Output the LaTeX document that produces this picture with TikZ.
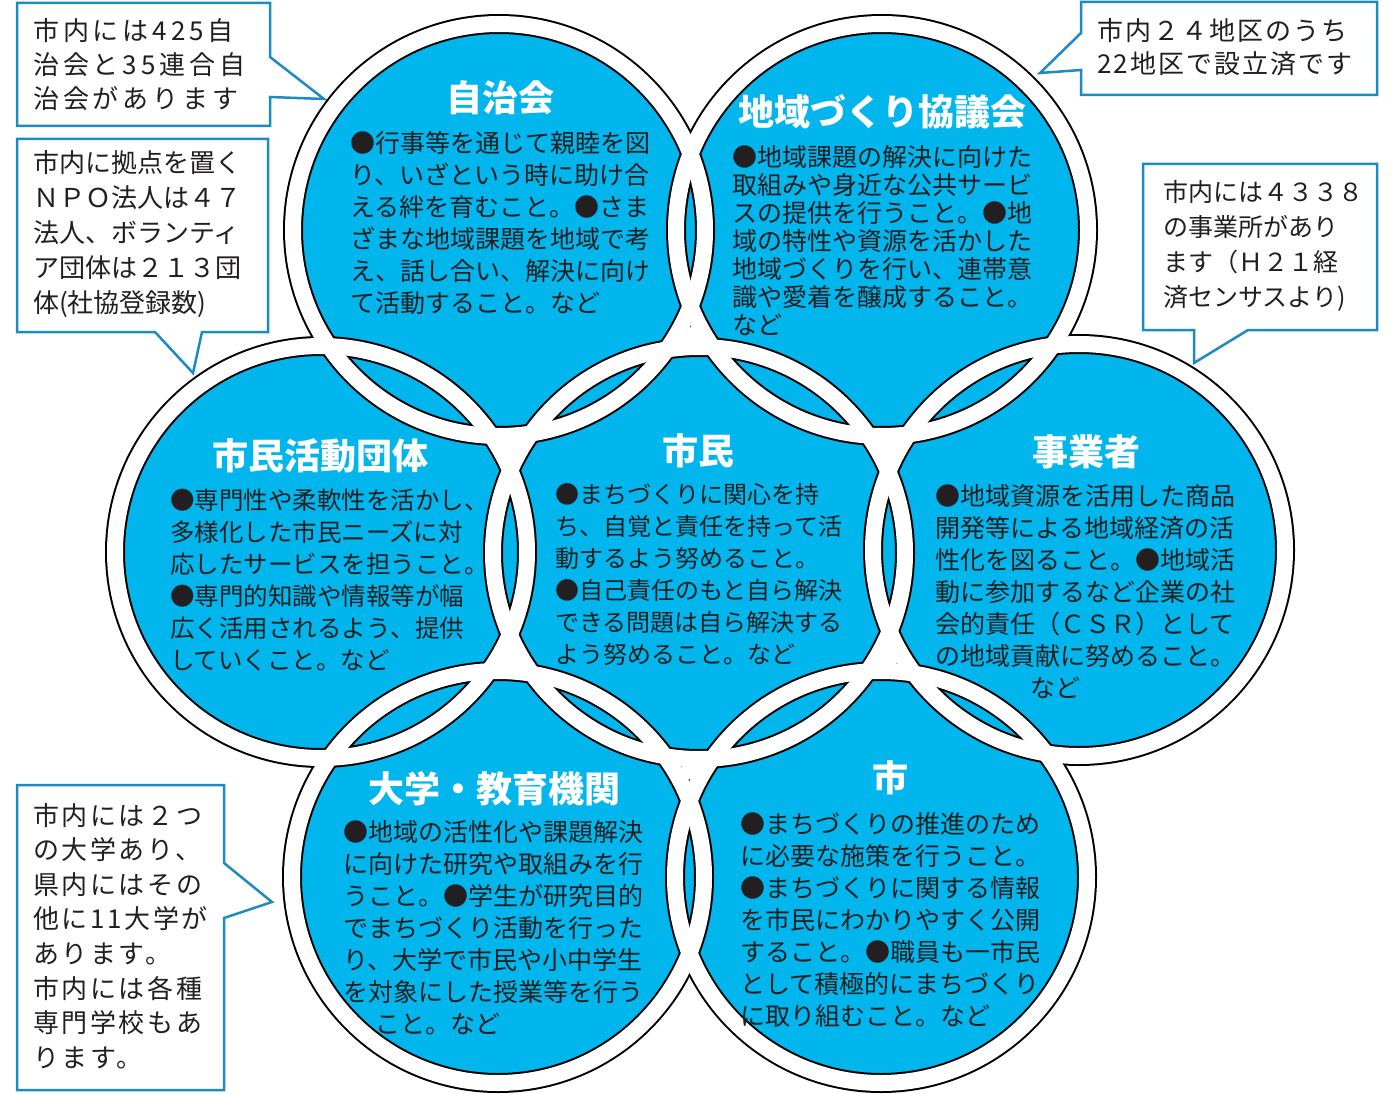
\documentclass[tikz,border=0pt]{standalone}
\usepackage{fontspec}
\setmainfont{Noto Sans CJK JP}

\definecolor{ringcyan}{RGB}{0,182,237}
\definecolor{noteblue}{RGB}{30,138,194}
\definecolor{inkgray}{RGB}{35,31,32}

\tikzset{
    ringfill/.style = {fill = ringcyan},
    ringedge/.style = {draw = black, line width = 20pt},
    ringband/.style = {draw = white, line width = 16pt},
    title/.style = {text = white, inner sep = 0pt, font = \fontsize{36}{36}\selectfont\bfseries},
    body/.style = {text = inkgray, inner sep = 0pt, align = left, anchor = north west, font = \fontsize{25}{32}\selectfont},
    callout/.style = {draw = noteblue, line width = 2.5pt, fill = white, line join = miter},
    note/.style = {text = inkgray, inner sep = 0pt, align = left, anchor = north west},
}

\begin{document}
\begin{tikzpicture}[x = 1pt, y = -1pt]

        \useasboundingbox (0, 0) rectangle (1397, 1094);

        % Callouts
        \coordinate (tip1) at (324, 99);
        \draw [callout] (17, 3) -- (270, 3) -- (270, 57) -- (tip1) -- (270, 97) -- (270, 126) -- (17, 126) -- cycle;
        \node (note1) [note, font = \fontsize{26}{34}\selectfont\addfontfeatures{LetterSpace = 15}] at (33, 18) {市内には425自\\治会と35連合自\\治会があります};

        \coordinate (tip2) at (193, 373);
        \draw [callout] (17, 139) -- (268, 139) -- (268, 332) -- (202, 332) -- (tip2) -- (155, 332) -- (17, 332) -- cycle;
        \node (note2) [note, font = \fontsize{26}{35}\selectfont] at (33, 150) {市内に拠点を置く\\ＮＰＯ法人は４７\\法人、ボランティ\\ア団体は２１３団\\体(社協登録数)};

        \coordinate (tip3) at (1040, 73);
        \draw [callout] (1081, 2) -- (1377, 2) -- (1377, 95) -- (1081, 95) -- (1081, 70) -- (tip3) -- (1081, 33) -- cycle;
        \node (note3) [note, font = \fontsize{26}{33}\selectfont\addfontfeatures{LetterSpace = 8}] at (1097, 18) {市内２４地区のうち\\22地区で設立済です};

        \coordinate (tip4) at (1194, 363);
        \draw [callout] (1143, 164) -- (1377, 164) -- (1377, 330) -- (1248, 330) -- (tip4) -- (1194, 330) -- (1143, 330) -- cycle;
        \node (note4) [note, font = \fontsize{25}{35}\selectfont] at (1163, 180) {市内には４３３８\\の事業所があり\\ます（Ｈ２１経\\済センサスより)};

        \coordinate (tip5) at (272, 902);
        \draw [callout] (17, 785) -- (224, 785) -- (224, 863) -- (tip5) -- (224, 918) -- (224, 1090) -- (17, 1090) -- cycle;
        \node (note5) [note, font = \fontsize{26}{34.6}\selectfont\addfontfeatures{LetterSpace = 10}] at (33, 803) {市内には２つ\\の大学あり、\\県内にはその\\他に11大学が\\あります。\\市内には各種\\専門学校もあ\\ります。};

        % Circles
        \coordinate (jichikai) at (499, 230);
        \coordinate (kyogikai) at (882, 230);
        \coordinate (katsudo) at (321, 552);
        \coordinate (shimin) at (699, 553);
        \coordinate (jigyosha) at (1079, 550);
        \coordinate (daigaku) at (498, 877);
        \coordinate (shi) at (881, 877);

        \foreach \c in {jichikai, kyogikai, katsudo, shimin, jigyosha, daigaku, shi}
            \fill [ringfill] (\c) circle [radius = 206pt];
        \foreach \c in {jichikai, kyogikai, katsudo, shimin, jigyosha, daigaku, shi}
            \draw [ringedge] (\c) circle [radius = 206pt];
        \foreach \c in {jichikai, kyogikai, katsudo, shimin, jigyosha, daigaku, shi}
            \draw [ringband] (\c) circle [radius = 206pt];

        %% Junctions where three rings meet
        \fill [white] (barycentric cs:jichikai=1,kyogikai=1,shimin=1) circle [radius = 11pt];
        \fill [white] (barycentric cs:jichikai=1,katsudo=1,shimin=1) circle [radius = 11pt];
        \fill [white] (barycentric cs:kyogikai=1,jigyosha=1,shimin=1) circle [radius = 11pt];
        \fill [white] (barycentric cs:katsudo=1,daigaku=1,shimin=1) circle [radius = 11pt];
        \fill [white] (barycentric cs:jigyosha=1,shi=1,shimin=1) circle [radius = 11pt];
        \fill [white] (barycentric cs:daigaku=1,shi=1,shimin=1) circle [radius = 11pt];

        %% Jichikai
        \node (jichikai-title) [title] at (500, 98) {自治会};
        \node (jichikai-body) [body] at (350, 131.5) {●行事等を通じて親睦を図\\り、いざという時に助け合\\える絆を育むこと。●さま\\ざまな地域課題を地域で考\\え、話し合い、解決に向け\\て活動すること。など};

        %% Kyogikai
        \node (kyogikai-title) [title] at (882, 112) {地域づくり協議会};
        \node (kyogikai-body) [body, font = \fontsize{25}{28}\selectfont] at (732, 145.5) {●地域課題の解決に向けた\\取組みや身近な公共サービ\\スの提供を行うこと。●地\\域の特性や資源を活かした\\地域づくりを行い、連帯意\\識や愛着を醸成すること。\\など};

        %% Katsudo
        \node (katsudo-title) [title] at (320, 456) {市民活動団体};
        \node (katsudo-body) [body, font = \fontsize{24.5}{32}\selectfont] at (170, 488.5) {●専門性や柔軟性を活かし、\\多様化した市民ニーズに対\\応したサービスを担うこと。\\●専門的知識や情報等が幅\\広く活用されるよう、提供\\していくこと。など};

        %% Shimin
        \node (shimin-title) [title] at (698, 451) {市民};
        \node (shimin-body) [body, font = \fontsize{24}{32}\selectfont] at (555, 483.5) {●まちづくりに関心を持\\ち、自覚と責任を持って活\\動するよう努めること。\\●自己責任のもと自ら解決\\できる問題は自ら解決する\\よう努めること。など};

        %% Jigyosha
        \node (jigyosha-title) [title] at (1086, 452) {事業者};
        \node (jigyosha-body) [body] at (935, 484.5) {●地域資源を活用した商品\\開発等による地域経済の活\\性化を図ること。●地域活\\動に参加するなど企業の社\\会的責任（ＣＳＲ）として\\の地域貢献に努めること。\\\hspace*{95pt}など};

        %% Daigaku
        \node (daigaku-title) [title] at (494, 789) {大学・教育機関};
        \node (daigaku-body) [body] at (343, 820.5) {●地域の活性化や課題解決\\に向けた研究や取組みを行\\うこと。●学生が研究目的\\でまちづくり活動を行った\\り、大学で市民や小中学生\\を対象にした授業等を行う\\\hspace*{32pt}こと。など};

        %% Shi
        \node (shi-title) [title] at (890, 778) {市};
        \node (shi-body) [body] at (740, 812.5) {●まちづくりの推進のため\\に必要な施策を行うこと。\\●まちづくりに関する情報\\を市民にわかりやすく公開\\すること。●職員も一市民\\として積極的にまちづくり\\に取り組むこと。など};

    \end{tikzpicture}
\end{document}
